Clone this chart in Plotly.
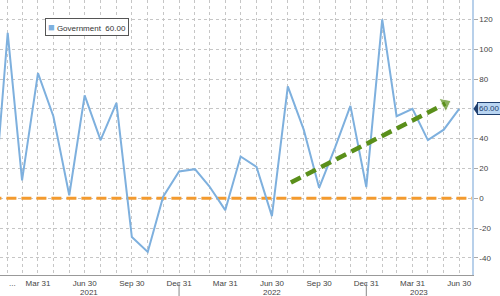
import plotly.graph_objects as go
import pandas as pd

# ---- data ----
dates = pd.date_range("2020-12-31", "2023-06-30", freq="ME")
government = [-22, 111, 12, 84, 55, 2, 69, 39, 64, -26, -36, 1, 18,
              19.5, 8, -8, 28, 21, -12, 75, 46, 7, 34, 62, 7.5,
              120, 55, 60, 39, 46, 60]
series_name = "Government"
y_ticks = [-40, -20, 0, 20, 40, 60, 80, 100, 120]
trend_start = ("2022-08-06", 10.5)
trend_end = ("2023-06-03", 63.5)
year_labels = [("2021-07-08", "2021"), ("2022-07-01", "2022"), ("2023-04-13", "2023")]
year_separators = ["2021-12-31", "2022-12-31"]

FONT = "Liberation Sans"
BLUE = "#7eb0de"
GRID = "#c6c6c6"

tickvals = list(dates)
ticktext = [d.strftime("%b %d").replace(" 0", " ") if d.month in (3, 6, 9, 12) else "" for d in dates]
ticktext[0] = ""
last = government[-1]
y_ticktext = ["" if v == round(last) else str(v) for v in y_ticks]

fig = go.Figure()

# zero reference line
fig.add_trace(go.Scatter(x=[pd.Timestamp("2020-12-01"), pd.Timestamp("2023-08-31")], y=[0, 0],
                         mode="lines", line=dict(color="#f39a2e", width=3, dash="10px,5px"),
                         hoverinfo="skip", showlegend=False))

fig.add_trace(go.Scatter(x=dates, y=government, mode="lines",
                         line=dict(color=BLUE, width=2), showlegend=False))

# trend arrow
fig.add_trace(go.Scatter(x=[trend_start[0], trend_end[0]], y=[trend_start[1], trend_end[1]],
                         mode="lines", line=dict(color="#5a8f1a", width=4.5, dash="11px,6px"),
                         showlegend=False, hoverinfo="skip"))
fig.add_trace(go.Scatter(x=[trend_start[0], trend_end[0]], y=[trend_start[1], trend_end[1]],
                         mode="markers", marker=dict(symbol="triangle-up", size=[0, 13],
                                                     angleref="previous", color="#5a8f1a"),
                         showlegend=False, hoverinfo="skip"))

fig.update_layout(
    width=500, height=296,
    margin=dict(l=0, r=28, t=0, b=21),
    paper_bgcolor="white", plot_bgcolor="white",
    font=dict(family=FONT, size=8, color="#444"),
    xaxis=dict(range=["2021-01-16", "2023-07-25"], tickvals=tickvals, ticktext=ticktext,
               showgrid=True, gridcolor=GRID, griddash="dot", gridwidth=1,
               showline=True, linecolor="#999", linewidth=1, ticks="", tickangle=0,
               tickfont=dict(size=8, color="#444"), zeroline=False),
    yaxis=dict(range=[-51.5, 133], side="right", tickvals=y_ticks, ticktext=y_ticktext,
               showgrid=True, gridcolor=GRID, griddash="dot", gridwidth=1,
               showline=True, linecolor="#b8d0ea", linewidth=1.5,
               ticks="outside", ticklen=4, tickcolor="#aaa",
               tickfont=dict(size=8, color="#444"), zeroline=False),
)

annotations = []
for d, t in year_labels:
    annotations.append(dict(x=d, y=0, xref="x", yref="paper", yshift=-11, yanchor="top",
                            text=t, showarrow=False, font=dict(size=8, color="#444")))
annotations.append(dict(x=0.015, y=0, xref="paper", yref="paper", yshift=-2, yanchor="top",
                        text="...", showarrow=False, font=dict(size=8, color="#444")))
annotations.append(dict(x=0.095, y=0.935, xref="paper", yref="paper", xanchor="left", yanchor="top",
                        text=f'<span style="color:{BLUE};font-size:11px">■</span> {series_name}  {last:.2f}',
                        showarrow=False, bordercolor="#555", borderwidth=1, borderpad=2,
                        bgcolor="white", font=dict(size=8, color="#333")))
annotations.append(dict(x=1.0, y=last, xref="paper", yref="y", xanchor="left",
                        xshift=5, text=f"{last:.2f}", showarrow=False,
                        bgcolor="#b9d5f2", bordercolor="#1f3f6f", borderwidth=1, borderpad=1,
                        font=dict(size=8, color="#1f3f6f")))
fig.update_layout(annotations=annotations)

shapes = []
for d in year_separators:
    shapes.append(dict(type="line", xref="x", yref="paper", x0=d, x1=d, y0=-0.03, y1=-0.08,
                       line=dict(color="#888", width=1)))
# pointer of the last-value label
shapes.append(dict(type="path", xref="paper", yref="y",
                   path=f"M 1.003,{last} L 1.012,{last + 4.2} L 1.012,{last - 4.2} Z",
                   fillcolor="#1f3f6f", line=dict(width=0), layer="above"))
fig.update_layout(shapes=shapes)

fig.write_html("out.html")
